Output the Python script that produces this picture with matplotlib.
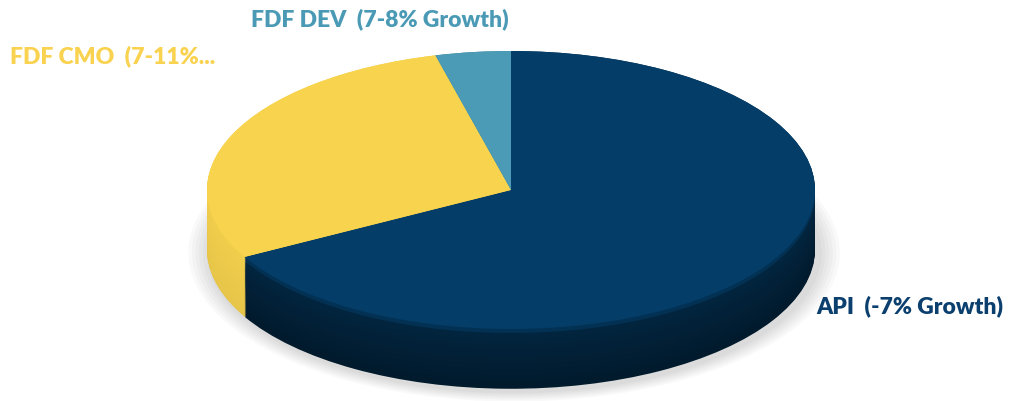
import numpy as np
import matplotlib
matplotlib.use("Agg")
import matplotlib.pyplot as plt
from matplotlib.colors import to_rgb

# データ
labels = ["API  (-7% Growth)", "FDF CMO  (7-11%...", "FDF DEV  (7-8% Growth)"]
shares = [67, 29, 4]
colors = ["#033d68", "#f8d44e", "#4b9bb6"]
label_colors = ["#0b3f6e", "#f9d24f", "#4a9ab5"]

fig = plt.figure(figsize=(10.19, 4.02), dpi=100)
ax = fig.add_axes([0, 0, 1, 1])

# 側面の厚み(データ座標)
depth = 0.43
n_layers = 60


def shade(c, f):
    r, g, b = to_rgb(c)
    return (r * f, g * f, b * f)


# うっすら影
for k in range(6):
    ax.pie(shares, startangle=90, counterclock=False, radius=1.0 + 0.012 * (6 - k),
           center=(0.01, -depth - 0.02), colors=["#000000"] * 3,
           wedgeprops=dict(linewidth=0, alpha=0.025))

# 側面: 下から重ねて描く
for i in range(n_layers):
    t = 1 - i / (n_layers - 1)   # 1 = 底, 0 = 上
    f = 0.62 - 0.2 * t
    if i > n_layers - 6:
        f = 0.8
    side_cols = [shade(c, f if c != "#f8d44e" else 0.97 - 0.04 * t) for c in colors]
    ax.pie(shares, startangle=90, counterclock=False, radius=1.0,
           center=(0, -depth * t), colors=side_cols,
           wedgeprops=dict(linewidth=0))

# 上面
ax.pie(shares, startangle=90, counterclock=False, radius=1.0,
       colors=colors, wedgeprops=dict(linewidth=0))

ax.set_aspect("auto")
ax.set_xlim(-511 / 304, (1019 - 511) / 304)
ax.set_ylim(-(402 - 191) / 139, 191 / 139)
ax.axis("off")

# ラベル
fs = 16.5
fig.text(816 / 1019, 1 - 306 / 402, labels[0], color=label_colors[0],
         fontsize=fs, fontweight="heavy", family="Lato", ha="left", va="center")
fig.text(10 / 1019, 1 - 56 / 402, labels[1], color=label_colors[1],
         fontsize=fs, fontweight="heavy", family="Lato", ha="left", va="center")
fig.text(380 / 1019, 1 - 19 / 402, labels[2], color=label_colors[2],
         fontsize=fs, fontweight="heavy", family="Lato", ha="center", va="center")

plt.savefig("out.png", dpi=100)
